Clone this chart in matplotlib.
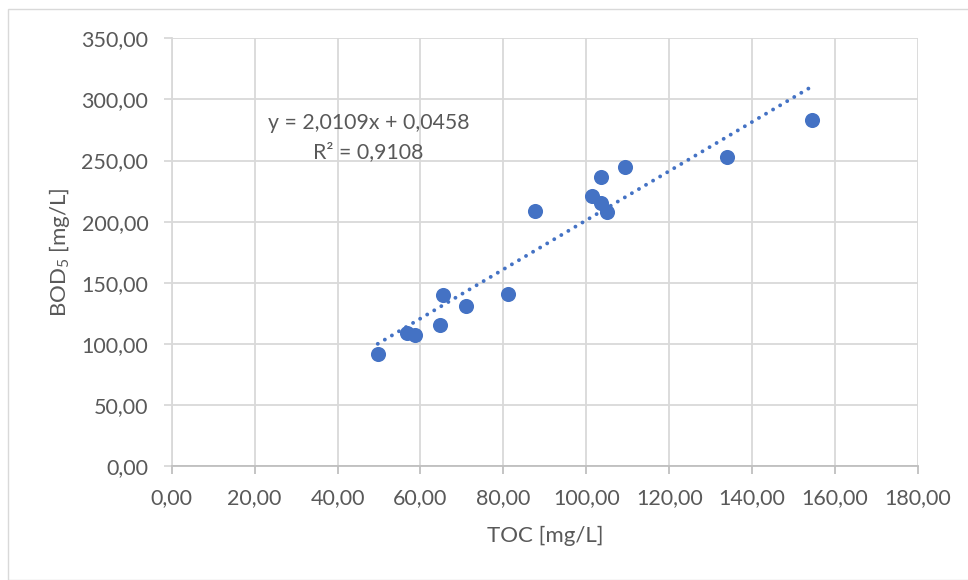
import numpy as np
import matplotlib.pyplot as plt
from matplotlib.patches import Rectangle

# TOC vs BOD5 readings
toc = [49.7, 56.7, 58.7, 64.6, 65.4, 71.0, 81.0, 87.6, 101.3, 103.5, 103.5, 104.9, 109.4, 134.0, 154.5]
bod = [91.4, 108.6, 107.0, 115.2, 140.0, 131.0, 140.8, 208.7, 221.0, 236.8, 215.5, 208.2, 244.5, 252.7, 283.2]

# trendline shown on chart
slope = 2.0109
intercept = 0.0458
r2 = 0.9108

x_ticks = np.arange(0, 181, 20)
y_ticks = np.arange(0, 351, 50)

plt.rcParams['font.family'] = ['Lato', 'DejaVu Sans']
txt = '#595959'
grid = '#d9d9d9'
blue = '#4472C4'

fig = plt.figure(figsize=(9.68, 5.8), dpi=100)
fig.patches.append(Rectangle((8/968, 0), 1.2, 1 - 9/580, transform=fig.transFigure,
                             fill=False, edgecolor='#d9d9d9', lw=1))
ax = fig.add_axes([171.7/968, 1 - 466/580, (918 - 171.7)/968, (466 - 38.3)/580])

xs = np.array([min(toc), max(toc)])
ax.plot(xs, slope*xs + intercept, color=blue, lw=2.8, linestyle=(0, (0.01, 2.1)),
        dash_capstyle='round', zorder=2)
ax.scatter(toc, bod, s=118, color=blue, zorder=3, linewidths=0)

ax.set_xlim(0, 180)
ax.set_ylim(0, 350)
ax.set_xticks(x_ticks)
ax.set_yticks(y_ticks)
ax.set_xticklabels([f'{v:.2f}'.replace('.', ',') for v in x_ticks])
ax.set_yticklabels([f'{v:.2f}'.replace('.', ',') for v in y_ticks])
ax.grid(True, color=grid, lw=1.3)
ax.set_axisbelow(True)
for s in ['top', 'right']:
    ax.spines[s].set_visible(False)
ax.spines['left'].set_color(grid)
ax.spines['left'].set_linewidth(1.3)
ax.spines['bottom'].set_color('#bfbfbf')
ax.spines['bottom'].set_linewidth(1.3)
ax.tick_params(axis='x', colors='#bfbfbf', labelcolor=txt, labelsize=15.5, length=5.8, width=1.3, pad=10)
ax.tick_params(axis='y', colors=grid, labelcolor=txt, labelsize=15.5, length=5.8, width=1.3, pad=11)

ax.set_xlabel('TOC [mg/L]', color=txt, fontsize=16, labelpad=13)
ax.set_ylabel(r'BOD$_{\mathregular{5}}$ [mg/L]', color=txt, fontsize=16)
ax.yaxis.set_label_coords(-0.1336, 0.5)

ax.text(47.5, 280.8, f'y = {slope:.4f}x + {intercept:.4f}'.replace('.', ','), ha='center', va='center',
        color=txt, fontsize=15.3)
ax.text(47.5, 257.0, f'R² = {r2:.4f}'.replace('.', ','), ha='center', va='center',
        color=txt, fontsize=15.3)

fig.savefig('out.png', dpi=100)
